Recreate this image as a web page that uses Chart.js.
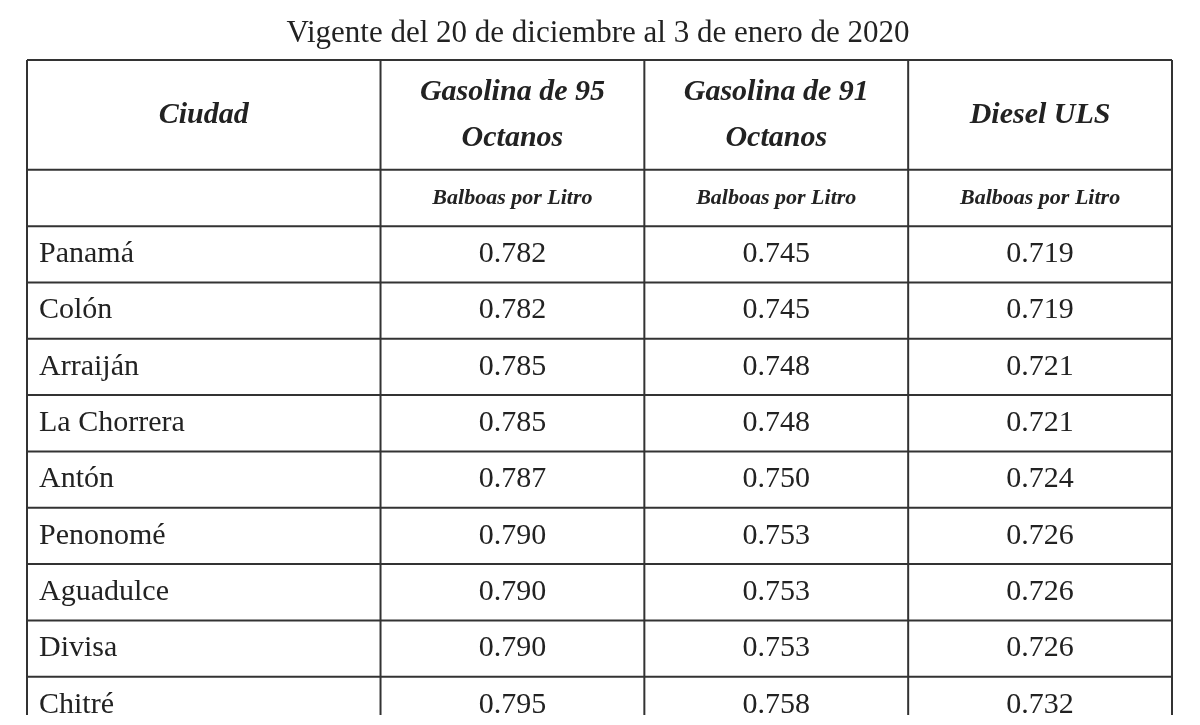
<!DOCTYPE html>
<html><head><meta charset="utf-8">
<script src="https://cdn.jsdelivr.net/npm/chart.js@4"></script>
<style>html,body{margin:0;background:#fff}#w{width:1200px;height:725px}</style>
</head><body><div id="w"><canvas id="c"></canvas></div>
<script>
const title = "Vigente del 20 de diciembre al 3 de enero de 2020";
const headers = ["Ciudad", "Gasolina de 95|Octanos", "Gasolina de 91|Octanos", "Diesel ULS"];
const units = ["", "Balboas por Litro", "Balboas por Litro", "Balboas por Litro"];
const cities = ["Panamá","Colón","Arraiján","La Chorrera","Antón","Penonomé","Aguadulce","Divisa","Chitré"];
const gas95 = ["0.782","0.782","0.785","0.785","0.787","0.790","0.790","0.790","0.795"];
const gas91 = ["0.745","0.745","0.748","0.748","0.750","0.753","0.753","0.753","0.758"];
const diesel = ["0.719","0.719","0.721","0.721","0.724","0.726","0.726","0.726","0.732"];

const H0 = 1.95, H1 = 2.95, YMAX = 11.63;
const EDGES = [0, 1.34, 2.34, 3.34, 4.34];
const serif = '"Liberation Serif","DejaVu Serif",serif';
const tablePlugin = {
  id: 'table',
  afterDraw(chart) {
    const ctx = chart.ctx, x = chart.scales.x, y = chart.scales.y;
    const X = c => x.getPixelForValue(EDGES[c]), Y = v => y.getPixelForValue(v);
    ctx.save();
    ctx.fillStyle = '#222';
    ctx.font = '31px ' + serif; ctx.textAlign = 'center'; ctx.textBaseline = 'middle';
    ctx.fillText(title, 598, 34);
    ctx.strokeStyle = '#333'; ctx.lineWidth = 2;
    const hl = [0, H0, H1]; for (let i = 1; i <= cities.length - 1; i++) hl.push(H1 + i);
    hl.forEach(v => { ctx.beginPath(); ctx.moveTo(X(0), Y(v)); ctx.lineTo(X(4), Y(v)); ctx.stroke(); });
    for (let c = 0; c <= 4; c++) { ctx.beginPath(); ctx.moveTo(X(c), Y(0)); ctx.lineTo(X(c), Y(YMAX)); ctx.stroke(); }
    ctx.font = 'italic bold 30px ' + serif;
    headers.forEach((h, c) => {
      const parts = h.split('|'), cx = (X(c) + X(c + 1)) / 2, cy = Y(H0 / 2);
      parts.forEach((p, k) => ctx.fillText(p, cx, cy + (k - (parts.length - 1) / 2) * 46));
    });
    ctx.font = 'italic bold 22px ' + serif;
    units.forEach((u, c) => ctx.fillText(u, (X(c) + X(c + 1)) / 2, Y((H0 + H1) / 2)));
    ctx.font = '30px ' + serif;
    cities.forEach((name, i) => {
      const cy = Y(H1 + i + 0.5);
      ctx.textAlign = 'left'; ctx.fillText(name, X(0) + 12, cy);
      ctx.textAlign = 'center';
      [gas95[i], gas91[i], diesel[i]].forEach((v, c) => ctx.fillText(v, (X(c + 1) + X(c + 2)) / 2, cy));
    });
    ctx.restore();
  }
};
new Chart(document.getElementById('c'), {
  type: 'scatter',
  data: { datasets: [{ data: [] }] },
  options: {
    responsive: true, maintainAspectRatio: false, animation: false,
    layout: { padding: { left: 27, right: 28, top: 60, bottom: 10 } },
    plugins: { legend: { display: false }, tooltip: { enabled: false } },
    scales: {
      x: { type: 'linear', min: 0, max: 4.34, display: false },
      y: { type: 'linear', min: 0, max: YMAX, reverse: true, display: false }
    }
  },
  plugins: [tablePlugin]
});
</script></body></html>
